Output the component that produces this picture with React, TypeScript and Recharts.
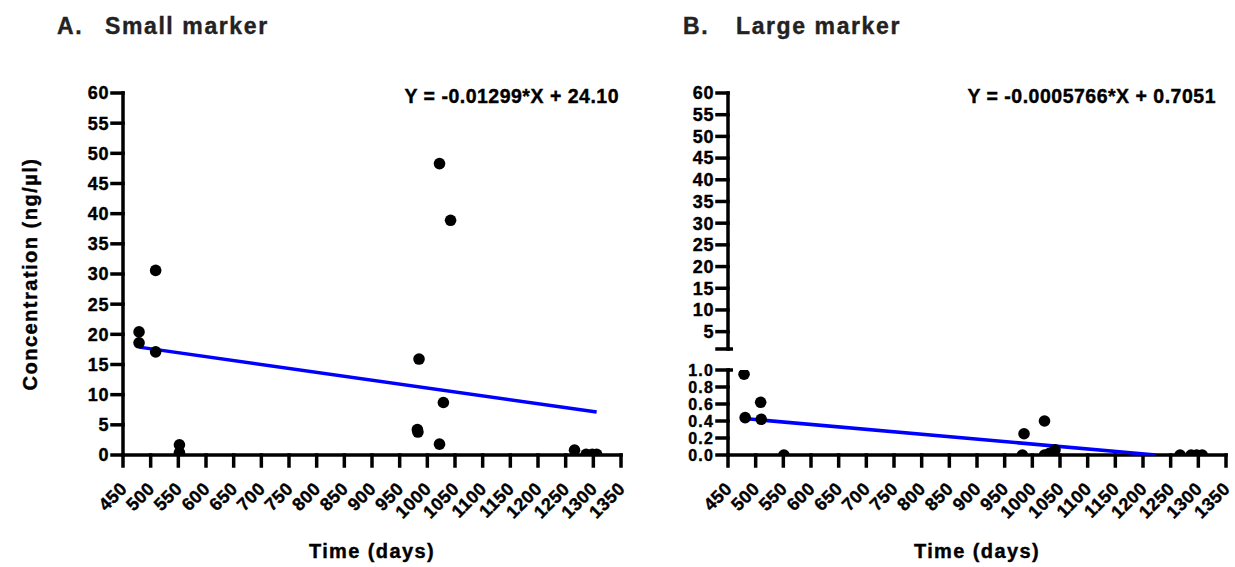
import React from 'react';
import { ScatterChart, Scatter, XAxis, YAxis, ReferenceLine } from 'recharts';

// A. small marker: sampling day vs concentration
const smallDays = [479, 479, 509, 509, 552, 552, 982, 983, 985, 1022, 1022, 1029, 1042, 1266, 1287, 1298, 1306];
const smallConc = [20.4, 18.6, 30.6, 17.1, 1.7, 0.4, 4.2, 3.8, 15.9, 48.3, 1.8, 8.7, 38.9, 0.8, 0.1, 0.1, 0.1];

// B. large marker
const largeDays = [479, 481, 509, 510, 551, 982, 985, 1022, 1022, 1031, 1041, 1267, 1287, 1297, 1307];
const largeConc = [0.95, 0.44, 0.62, 0.42, 0.0, 0.0, 0.25, 0.4, 0.0, 0.02, 0.06, 0.0, 0.0, 0.0, 0.0];

// regression line end points
const fitSmallDays = [479, 1306];
const fitSmallConc = [17.88, 7.13];
const fitLargeDays = [479, 1223];
const fitLargeConc = [0.429, 0];

const dayTicks = [450, 500, 550, 600, 650, 700, 750, 800, 850, 900, 950, 1000, 1050, 1100, 1150, 1200, 1250, 1300, 1350];
const concTicks = [0, 5, 10, 15, 20, 25, 30, 35, 40, 45, 50, 55, 60];
const upperTicks = [1, 5, 10, 15, 20, 25, 30, 35, 40, 45, 50, 55, 60];
const lowerTicks = [0, 0.2, 0.4, 0.6, 0.8, 1.0];
const breakValue = 1;

const eqSmall = 'Y = -0.01299*X + 24.10';
const eqLarge = 'Y = -0.0005766*X + 0.7051';

const toPoints = (xs: number[], ys: number[]) => xs.map((d, i) => ({ day: d, conc: ys[i] }));

const FONT = 'Arial, "Liberation Sans", Helvetica, sans-serif';
const axisStyle = { stroke: '#000', strokeWidth: 3.5, strokeLinecap: 'square' as const };
const yTick = {
  fontSize: 18,
  fontWeight: 700,
  fill: '#000',
  stroke: '#000',
  strokeWidth: 0.4,
  fontFamily: FONT,
  letterSpacing: 0.6,
};
// the 0.0–1.0 labels sit only 17px apart
const yTickSmall = { ...yTick, fontSize: 16, letterSpacing: 1.2 };

const Dot = (props: any) => <circle cx={props.cx} cy={props.cy} r={5.8} fill="#000" />;
const NoDot = () => <g />;

const XTick = (props: any) => {
  const { x, y, payload } = props;
  const ax = x + 5;
  const ay = y + 24;
  return (
    <text
      x={ax}
      y={ay}
      transform={`rotate(-45, ${ax}, ${ay})`}
      textAnchor="end"
      fontSize={18}
      fontWeight={700}
      fontFamily={FONT}
      letterSpacing={0.4}
      fill="#000"
      stroke="#000"
      strokeWidth={0.4}
    >
      {payload.value}
    </text>
  );
};

const xAxisProps = {
  type: 'number' as const,
  dataKey: 'day',
  domain: [450, 1350],
  allowDataOverflow: true,
  ticks: dayTicks,
  interval: 0 as const,
  height: 60,
  axisLine: axisStyle,
  tickLine: axisStyle,
  tickSize: 11,
  tickMargin: 0,
  tick: XTick,
};

const titleProps = { fontSize: 23, fill: '#222', stroke: '#222', strokeWidth: 0.4, letterSpacing: 1.6 };
const labelProps = { fontSize: 20, fill: '#000', stroke: '#000', strokeWidth: 0.4, textAnchor: 'middle' as const };

export default function App() {
  const smallPts = toPoints(smallDays, smallConc);
  const largePts = toPoints(largeDays, largeConc);
  const fitSmall = toPoints(fitSmallDays, fitSmallConc);
  const fitLarge = toPoints(fitLargeDays, fitLargeConc);

  return (
    <div style={{ position: 'absolute', left: 0, top: 0, width: 1235, height: 567, background: '#fff', fontFamily: FONT }}>
      {/* panel A */}
      <div style={{ position: 'absolute', left: 0, top: 0 }}>
        <ScatterChart width={640} height={567} margin={{ top: 93, right: 19, bottom: 52, left: 63 }}>
          <XAxis {...xAxisProps} />
          <YAxis
            type="number"
            dataKey="conc"
            domain={[0, 60]}
            allowDataOverflow
            ticks={concTicks}
            interval={0}
            width={60}
            axisLine={axisStyle}
            tickLine={axisStyle}
            tickSize={11}
            tickMargin={3}
            tick={yTick}
          />
          <Scatter data={fitSmall} line={{ stroke: '#0000ff', strokeWidth: 3.5 }} shape={NoDot} isAnimationActive={false} />
          <Scatter data={smallPts} shape={Dot} isAnimationActive={false} />
        </ScatterChart>
      </div>

      {/* panel B, upper segment of the broken axis (no visible marks) */}
      <div style={{ position: 'absolute', left: 640, top: 0 }}>
        <ScatterChart width={595} height={360} margin={{ top: 93, right: 9, bottom: 11, left: 28 }}>
          <XAxis type="number" dataKey="day" domain={[450, 1350]} allowDataOverflow hide />
          <YAxis
            type="number"
            dataKey="conc"
            domain={[breakValue, 60]}
            allowDataOverflow
            ticks={upperTicks}
            interval={0}
            width={60}
            axisLine={axisStyle}
            tickLine={axisStyle}
            tickSize={11}
            tickMargin={3}
            tick={yTick}
            tickFormatter={(v: number) => (v === breakValue ? '' : String(v))}
          />
          <ReferenceLine
            segment={[{ x: 450, y: breakValue }, { x: 459, y: breakValue }]}
            stroke="#000"
            strokeWidth={3.5}
            ifOverflow="visible"
          />
          <Scatter data={largePts} shape={NoDot} isAnimationActive={false} />
        </ScatterChart>
      </div>

      {/* panel B, lower segment with data */}
      <div style={{ position: 'absolute', left: 640, top: 300 }}>
        <ScatterChart width={595} height={267} margin={{ top: 70, right: 9, bottom: 52, left: 28 }}>
          <XAxis {...xAxisProps} />
          <YAxis
            type="number"
            dataKey="conc"
            domain={[0, 1]}
            allowDataOverflow
            ticks={lowerTicks}
            interval={0}
            width={60}
            axisLine={axisStyle}
            tickLine={axisStyle}
            tickSize={11}
            tickMargin={3}
            tick={yTickSmall}
            tickFormatter={(v: number) => v.toFixed(1)}
          />
          <ReferenceLine
            segment={[{ x: 450, y: 1 }, { x: 459, y: 1 }]}
            stroke="#000"
            strokeWidth={3.5}
            ifOverflow="visible"
          />
          <Scatter data={fitLarge} line={{ stroke: '#0000ff', strokeWidth: 3.5 }} shape={NoDot} isAnimationActive={false} />
          <Scatter data={largePts} shape={Dot} isAnimationActive={false} />
        </ScatterChart>
      </div>

      {/* titles, equations, axis titles */}
      <svg width={1235} height={567} style={{ position: 'absolute', left: 0, top: 0, pointerEvents: 'none' }} fontFamily={FONT} fontWeight={700}>
        <text x={57} y={33.5} {...titleProps}>A.</text>
        <text x={105} y={33.5} {...titleProps}>Small marker</text>
        <text x={683} y={33.5} {...titleProps}>B.</text>
        <text x={736} y={33.5} {...titleProps}>Large marker</text>

        <text x={619} y={102.5} fontSize={19.5} fill="#000" stroke="#000" strokeWidth={0.4} textAnchor="end" letterSpacing={0.5}>{eqSmall}</text>
        <text x={1216} y={102.5} fontSize={19.5} fill="#000" stroke="#000" strokeWidth={0.4} textAnchor="end" letterSpacing={0.5}>{eqLarge}</text>

        <text x={37} y={274} {...labelProps} letterSpacing={1.5} transform="rotate(-90, 37, 274)">
          Concentration (ng/µl)
        </text>
        <text x={372} y={558} {...labelProps} letterSpacing={1.4}>Time (days)</text>
        <text x={977} y={558} {...labelProps} letterSpacing={1.4}>Time (days)</text>
      </svg>
    </div>
  );
}
